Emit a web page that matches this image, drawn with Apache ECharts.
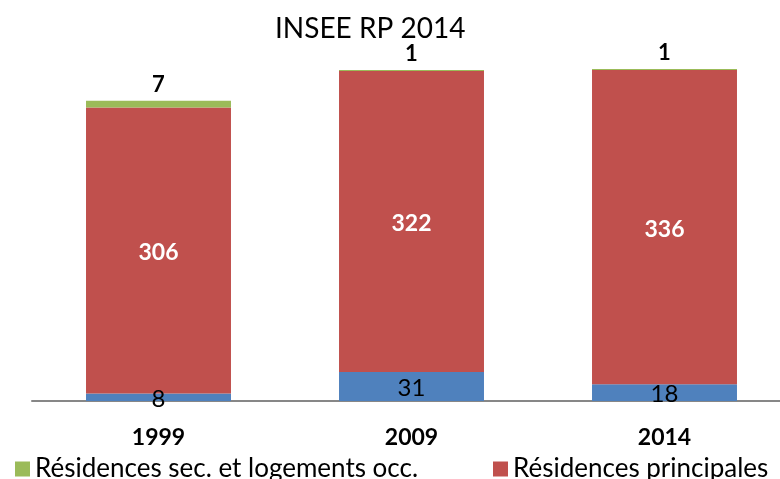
<!DOCTYPE html>
<html>
<head>
<meta charset="utf-8">
<script src="https://cdn.jsdelivr.net/npm/echarts@6/dist/echarts.min.js"></script>
<style>
  html, body { margin: 0; padding: 0; background: #fff; }
  #chart { width: 780px; height: 479px; }
</style>
</head>
<body>
<div id="chart"></div>
<script>
// données INSEE RP
const years = ['1999', '2009', '2014'];
const vacants = [8, 31, 18];        // logements vacants
const principales = [306, 322, 336]; // résidences principales
const secondaires = [7, 1, 1];       // résidences sec. et logements occ.

const FONT = 'Lato, "Liberation Sans", sans-serif';

const chart = echarts.init(document.getElementById('chart'));

chart.setOption({
  animation: false,
  textStyle: { fontFamily: FONT },
  title: {
    text: 'INSEE RP 2014',
    left: 270,
    top: 10,
    textStyle: { fontSize: 28, fontWeight: 'normal', color: '#000', fontFamily: FONT }
  },
  legend: [
    {
      data: ['Résidences sec. et logements occ.'],
      left: 10,
      top: 451,
      itemWidth: 15,
      itemHeight: 15,
      icon: 'rect',
      textStyle: { fontSize: 26, color: '#000', fontFamily: FONT }
    },
    {
      data: ['Résidences principales'],
      left: 488,
      top: 451,
      itemWidth: 15,
      itemHeight: 15,
      icon: 'rect',
      textStyle: { fontSize: 26, color: '#000', fontFamily: FONT }
    }
  ],
  grid: { left: 32, right: -11, top: 27, bottom: 78, outerBoundsMode: 'none' },
  xAxis: {
    type: 'category',
    data: years,
    axisTick: { show: false },
    axisLine: { lineStyle: { color: '#878787', width: 2 } },
    axisLabel: { fontSize: 23, fontWeight: 'bold', color: '#000', margin: 25, fontFamily: FONT }
  },
  yAxis: {
    type: 'value',
    min: 0,
    max: 400,
    show: false,
    splitLine: { show: false }
  },
  series: [
    {
      name: 'Logements vacants',
      type: 'bar',
      stack: 'total',
      barWidth: '57.3%',
      data: vacants,
      itemStyle: { color: '#4F81BD' },
      label: {
        show: true,
        position: 'inside',
        offset: [0, 2],
        fontSize: 24,
        color: '#000',
        fontFamily: FONT
      }
    },
    {
      name: 'Résidences principales',
      type: 'bar',
      stack: 'total',
      data: principales,
      itemStyle: { color: '#C0504D' },
      label: {
        show: true,
        position: 'inside',
        offset: [0, 2],
        fontSize: 23,
        fontWeight: 'bold',
        color: '#fff',
        fontFamily: FONT
      }
    },
    {
      name: 'Résidences sec. et logements occ.',
      type: 'bar',
      stack: 'total',
      data: secondaires,
      itemStyle: { color: '#9BBB59' },
      label: {
        show: true,
        position: 'top',
        distance: 5,
        fontSize: 22,
        fontWeight: 'bold',
        color: '#000',
        fontFamily: FONT
      }
    }
  ]
});
</script>
</body>
</html>
